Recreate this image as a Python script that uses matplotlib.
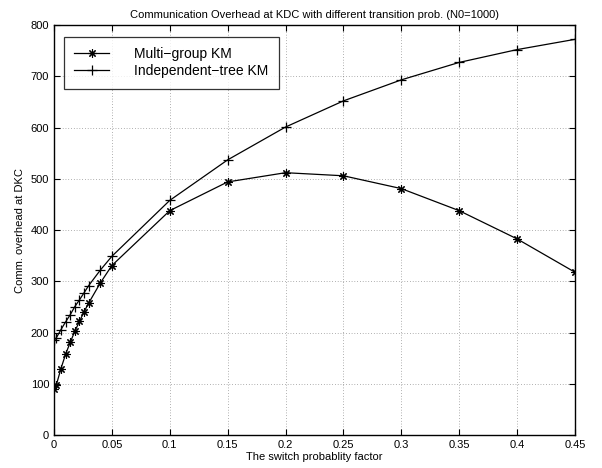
import matplotlib
matplotlib.use('Agg')
import matplotlib.pyplot as plt

plt.rcParams['font.family'] = ['Liberation Sans', 'DejaVu Sans']

# ---- data ----
switch_prob = [0, 0.002, 0.006, 0.01, 0.014, 0.018, 0.022, 0.026, 0.03, 0.04, 0.05,
               0.1, 0.15, 0.2, 0.25, 0.3, 0.35, 0.4, 0.45]
multi_group = [90, 98, 130, 158, 181, 203, 222, 241, 258, 297, 331,
               438, 494, 512, 506, 481, 438, 383, 318]
indep_tree = [185, 190, 206, 221, 235, 251, 264, 278, 292, 322, 349,
              458, 537, 601, 652, 693, 727, 752, 772]

x_ticks = [0, 0.05, 0.1, 0.15, 0.2, 0.25, 0.3, 0.35, 0.4, 0.45]
x_tick_labels = ['0', '0.05', '0.1', '0.15', '0.2', '0.25', '0.3', '0.35', '0.4', '0.45']
y_ticks = [0, 100, 200, 300, 400, 500, 600, 700, 800]

fig = plt.figure(figsize=(6.02, 4.68), dpi=100)
ax = fig.add_axes([0.0897, 0.0699, 0.955 - 0.0897, 0.9466 - 0.0699])

ax.plot(switch_prob, multi_group, color='black', linewidth=0.9,
        marker=(8, 2, 0), markersize=6, markeredgewidth=0.8,
        label='Multi\u2212group KM')
ax.plot(switch_prob, indep_tree, color='black', linewidth=0.9,
        marker='+', markersize=7, markeredgewidth=0.9,
        label='Independent\u2212tree KM')

ax.set_xlim(0, 0.45)
ax.set_ylim(0, 800)
ax.set_xticks(x_ticks)
ax.set_xticklabels(x_tick_labels)
ax.set_yticks(y_ticks)
ax.tick_params(direction='in', top=True, right=True, labelsize=8, length=4, width=0.8)
ax.grid(True, linestyle=(0, (1, 3)), color='black', linewidth=0.5, alpha=0.6)
for s in ax.spines.values():
    s.set_linewidth(1.0)

ax.set_title('Communication Overhead at KDC with different transition prob. (N0=1000)',
             fontsize=8, pad=5)
ax.set_xlabel('The switch probablity factor', fontsize=8, labelpad=1)
ax.set_ylabel('Comm. overhead at DKC', fontsize=8, labelpad=4)

leg = ax.legend(loc='upper left', bbox_to_anchor=(0.019, 0.971), fontsize=10,
                frameon=True, fancybox=False, edgecolor='black',
                borderaxespad=0, handlelength=2.5, handletextpad=1.8,
                borderpad=0.75, labelspacing=0.2)
leg.get_frame().set_linewidth(0.9)

fig.savefig('out.png', dpi=100)
